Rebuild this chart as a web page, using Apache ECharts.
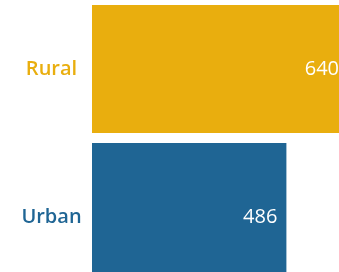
<!DOCTYPE html>
<html>
<head>
<meta charset="utf-8">
<script src="https://cdn.jsdelivr.net/npm/echarts@6/dist/echarts.min.js"></script>
<style>
html,body{margin:0;padding:0;background:#fff;}
#chart{width:339px;height:272px;}
</style>
</head>
<body>
<div id="chart"></div>
<script>
const categories = ['Rural', 'Urban'];
const values = [640, 486];
const colors = ['#E9AE0E', '#1F6594'];
const xMax = 640;

const chart = echarts.init(document.getElementById('chart'));
const gridBoxes = [{ top: 5, height: 128 }, { top: 143, height: 148 }];
const font = '"Open Sans", sans-serif';

const option = {
  animation: false,
  grid: gridBoxes.map(g => ({
    left: 92, width: 256, top: g.top, height: g.height,
    outerBoundsMode: 'none', containLabel: false
  })),
  xAxis: categories.map((c, i) => ({
    type: 'value', gridIndex: i, min: 0, max: xMax, show: false
  })),
  yAxis: categories.map((c, i) => ({
    type: 'category', gridIndex: i, data: [c],
    axisLine: { show: false }, axisTick: { show: false }, splitLine: { show: false },
    axisLabel: {
      color: colors[i], fontSize: 20, fontWeight: 600, fontFamily: font,
      align: 'center', margin: 40.5
    }
  })),
  series: categories.map((c, i) => ({
    type: 'bar', xAxisIndex: i, yAxisIndex: i,
    data: [values[i]], barWidth: '100%',
    itemStyle: { color: colors[i] },
    label: {
      show: true, position: 'insideRight', distance: 9,
      color: '#fff', fontSize: 20, fontWeight: 500, fontFamily: font
    }
  }))
};
chart.setOption(option);
</script>
</body>
</html>
